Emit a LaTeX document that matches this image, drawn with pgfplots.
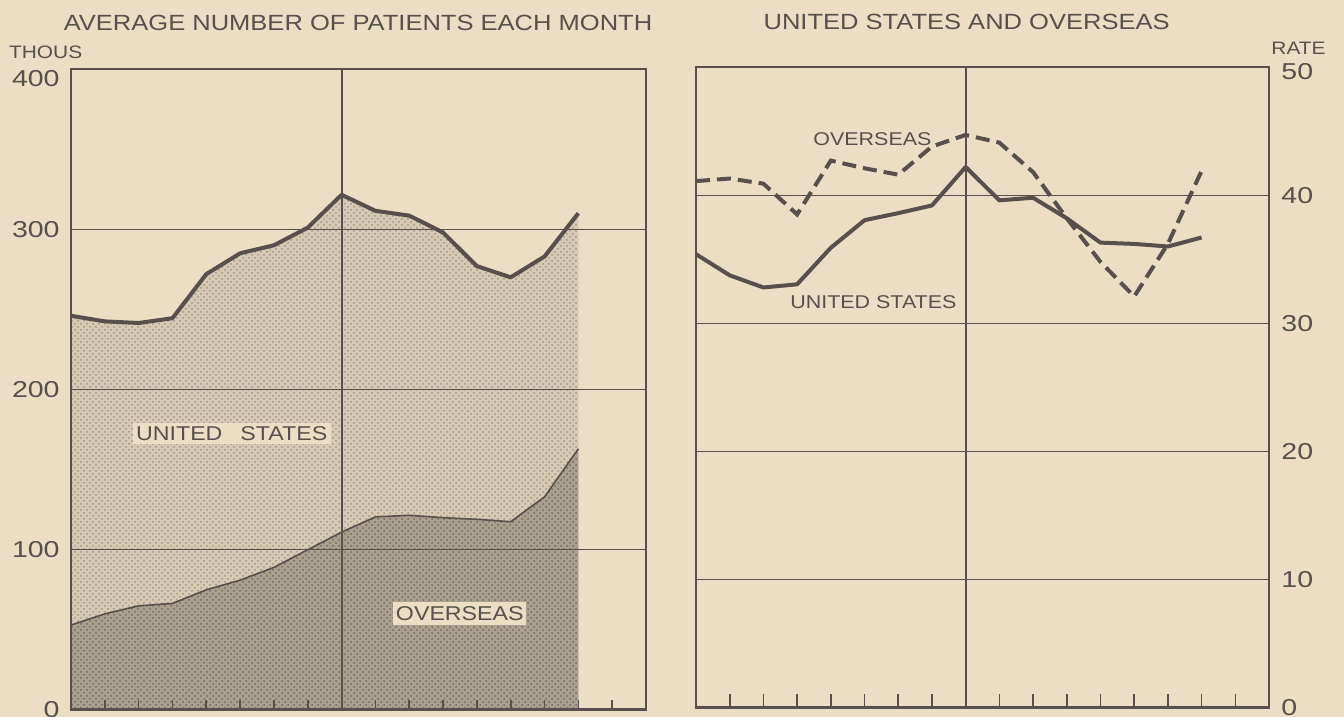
\documentclass[border=0pt]{standalone}
\usepackage{fontspec}
\setmainfont{Liberation Sans}[FakeStretch=1.16]
\newfontfamily\numfont{Liberation Sans}[FakeStretch=1.24]
\usepackage{pgfplots}
\pgfplotsset{compat=1.18}
\usetikzlibrary{patterns}

\definecolor{bg}{RGB}{235,222,196}
\definecolor{ink}{RGB}{88,80,76}
\definecolor{usbase}{RGB}{214,202,180}
\definecolor{usdot}{RGB}{160,150,134}
\definecolor{osbase}{RGB}{170,160,144}
\definecolor{osdot}{RGB}{115,106,96}

\pgfplotstableread{
x y
0 246
1 242.5
2 241.5
3 244.5
4 272
5 285
6 290
7 301
8 321.5
9 311.5
10 308.5
11 298
12 277
13 270
14 283
15 310
}\total

\pgfplotstableread{
x y
0 53
1 60
2 65
3 66.5
4 75
5 81
6 89
7 100
8 111
9 120.5
10 121.5
11 120
12 119
13 117.5
14 133
15 163
}\overseas

\pgfplotstableread{
x y
0 35.4
1 33.75
2 32.8
3 33.05
4 35.9
5 38.05
6 38.6
7 39.2
8 42.2
9 39.6
10 39.8
11 38.2
12 36.3
13 36.2
14 36.0
15 36.7
}\usrate

\pgfplotstableread{
x y
0 41.1
1 41.3
2 40.9
3 38.5
4 42.7
5 42.1
6 41.6
7 43.8
8 44.7
9 44.1
10 41.8
11 38.2
12 34.8
13 32.1
14 36.2
15 41.9
}\osrate

\pgfplotsset{
  common/.style={
    scale only axis,
    /pgf/number format/assume math mode=true,
    xmin=0, xmax=17,
    xtick={1,...,16}, xticklabels={},
    xtick pos=bottom, tick align=inside,
    axis line style={ink, line width=0.7pt},
    ymajorgrids,
    major grid style={ink, line width=0.65pt},
    y tick style={draw=none},
    x tick style={ink, line width=0.8pt},
    extra x ticks={8}, extra x tick labels={},
    extra x tick style={grid=major, major grid style={ink, line width=1pt}},
    yticklabel style={font=\numfont\fontsize{11.5}{13}\selectfont, text=ink, inner sep=0pt},
    axis on top,
  }
}

\begin{document}
\begin{tikzpicture}
\useasboundingbox (0,0) rectangle (672pt,358.5pt);
\fill[bg] (0,0) rectangle (672pt,358.5pt);

% LEFT PANEL
\begin{axis}[common,
  at={(35.5pt,3.5pt)}, anchor=south west,
  width=287.5pt, height=320.5pt,
  ymin=0, ymax=400,
  ytick={0,100,200,300},
  major tick length=5pt,
  yticklabel style={anchor=east, xshift=-5.5pt},
  extra y ticks={400},
  extra y tick style={yticklabel style={yshift=-5pt}},
]
\addplot[draw=none, fill=usbase, postaction={pattern=crosshatch dots, pattern color=usdot}] table[x=x,y=y]{\total} \closedcycle;
\addplot[draw=none, fill=osbase, postaction={pattern=crosshatch dots, pattern color=osdot}] table[x=x,y=y]{\overseas} \closedcycle;
\addplot[ink, line width=0.8pt] table[x=x,y=y]{\overseas};
\addplot[ink, line width=2pt, line join=round] table[x=x,y=y]{\total};
\draw[ink, line width=2pt] (rel axis cs:0,0) -- (rel axis cs:1,0);
\end{axis}

% RIGHT PANEL
\begin{axis}[common,
  at={(348pt,4.5pt)}, anchor=south west,
  width=286.5pt, height=320.5pt,
  ymin=0, ymax=50,
  ytick={0,10,20,30,40},
  major tick length=7pt,
  ytick pos=right, yticklabel pos=right,
  yticklabel style={anchor=west, xshift=6pt},
  extra y ticks={50},
  extra y tick style={yticklabel style={yshift=-2.5pt}},
]
\addplot[ink, line width=2pt, dash pattern=on 7pt off 3.5pt] table[x=x,y=y]{\osrate};
\addplot[ink, line width=2pt, line join=round] table[x=x,y=y]{\usrate};
\draw[ink, line width=1.7pt] (rel axis cs:0,0) -- (rel axis cs:1,0);
\end{axis}

% TEXT
\node[font=\fontsize{11}{13}\selectfont, text=ink] at (179pt,347.1pt) {AVERAGE NUMBER OF PATIENTS EACH MONTH};
\node[font=\fontsize{11}{13}\selectfont, text=ink] at (483.3pt,347.5pt) {UNITED STATES AND OVERSEAS};
\node[font=\fontsize{9}{11}\selectfont, text=ink] at (22.85pt,332.2pt) {THOUS};
\node[font=\fontsize{9}{11}\selectfont, text=ink] at (649.25pt,334.3pt) {RATE};

\node[font=\fontsize{10}{12}\selectfont, text=ink, fill=bg, inner xsep=1.75pt, inner ysep=1.85pt] at (115.85pt,141.85pt) {UNITED\hspace{9pt}STATES};
\node[font=\fontsize{10}{12}\selectfont, text=ink, fill=bg, inner xsep=1.25pt, inner ysep=2.25pt] at (229.9pt,51.8pt) {OVERSEAS};

\node[font=\fontsize{9.25}{11}\selectfont, text=ink] at (436.2pt,288.8pt) {OVERSEAS};
\node[font=\fontsize{9.25}{11}\selectfont, text=ink] at (436.7pt,207.2pt) {UNITED STATES};
\end{tikzpicture}
\end{document}
